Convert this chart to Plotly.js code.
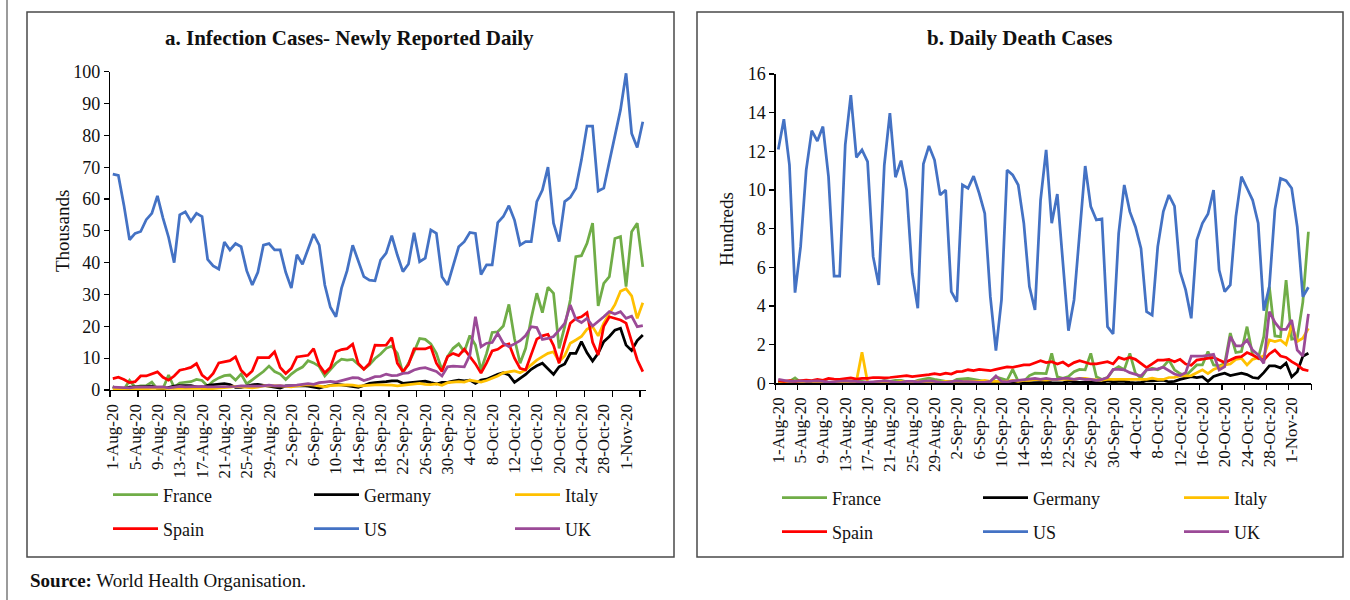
<!DOCTYPE html>
<html>
<head>
<meta charset="utf-8">
<script src="https://cdn.plot.ly/plotly-3.0.1.min.js"></script>
<style>
  html, body { margin: 0; padding: 0; background: #ffffff; }
  #chart { width: 1350px; height: 600px; }
</style>
</head>
<body>
<div id="chart"></div>
<script>
// ---------------- DATA ----------------
const dates = [
  "1-Aug-20","2-Aug-20","3-Aug-20","4-Aug-20","5-Aug-20","6-Aug-20","7-Aug-20","8-Aug-20","9-Aug-20","10-Aug-20",
  "11-Aug-20","12-Aug-20","13-Aug-20","14-Aug-20","15-Aug-20","16-Aug-20","17-Aug-20","18-Aug-20","19-Aug-20","20-Aug-20",
  "21-Aug-20","22-Aug-20","23-Aug-20","24-Aug-20","25-Aug-20","26-Aug-20","27-Aug-20","28-Aug-20","29-Aug-20","30-Aug-20",
  "31-Aug-20","1-Sep-20","2-Sep-20","3-Sep-20","4-Sep-20","5-Sep-20","6-Sep-20","7-Sep-20","8-Sep-20","9-Sep-20",
  "10-Sep-20","11-Sep-20","12-Sep-20","13-Sep-20","14-Sep-20","15-Sep-20","16-Sep-20","17-Sep-20","18-Sep-20","19-Sep-20",
  "20-Sep-20","21-Sep-20","22-Sep-20","23-Sep-20","24-Sep-20","25-Sep-20","26-Sep-20","27-Sep-20","28-Sep-20","29-Sep-20",
  "30-Sep-20","1-Oct-20","2-Oct-20","3-Oct-20","4-Oct-20","5-Oct-20","6-Oct-20","7-Oct-20","8-Oct-20","9-Oct-20",
  "10-Oct-20","11-Oct-20","12-Oct-20","13-Oct-20","14-Oct-20","15-Oct-20","16-Oct-20","17-Oct-20","18-Oct-20","19-Oct-20",
  "20-Oct-20","21-Oct-20","22-Oct-20","23-Oct-20","24-Oct-20","25-Oct-20","26-Oct-20","27-Oct-20","28-Oct-20","29-Oct-20",
  "30-Oct-20","31-Oct-20","1-Nov-20","2-Nov-20","3-Nov-20","4-Nov-20"
];
const tickLabels = ["1-Aug-20","5-Aug-20","9-Aug-20","13-Aug-20","17-Aug-20","21-Aug-20","25-Aug-20","29-Aug-20",
  "2-Sep-20","6-Sep-20","10-Sep-20","14-Sep-20","18-Sep-20","22-Sep-20","26-Sep-20","30-Sep-20",
  "4-Oct-20","8-Oct-20","12-Oct-20","16-Oct-20","20-Oct-20","24-Oct-20","28-Oct-20","1-Nov-20"];

const countries = ["France","Germany","Italy","Spain","US","UK"];
const colors = ["#70AD47","#000000","#FFC000","#FF0000","#4472C4","#9B4A97"];

// a. Infection cases, newly reported daily (thousands)
const casesFrance = [1.0,0.4,0.2,3.0,0.9,1.3,1.4,2.5,0.3,0.5, 4.7,0.8,2.2,2.5,2.6,3.3,3.0,1.2,2.8,3.8,
  4.5,4.7,3.1,5.0,1.9,3.2,4.5,5.8,7.5,5.8, 5.0,3.3,5.0,6.3,7.2,9.2,8.5,7.4,4.4,6.5,
  8.4,9.7,9.4,9.6,8.0,6.5,7.9,9.9,11.3,13.1, 13.8,11.5,5.4,8.4,12.0,16.2,15.9,14.5,11.5,6.3,
  10.5,13.1,14.5,12.0,17.1,14.1,6.3,11.5,18.1,18.3, 20.1,26.9,16.2,8.4,13.1,22.5,30.4,24.3,32.3,30.4,
  13.1,19.9,28.3,41.9,42.2,46.1,52.4,26.4,33.5,35.6, 47.6,48.2,32.5,49.7,52.4,38.7];
const casesGermany = [0.9,0.5,0.3,0.9,0.9,1.0,1.1,1.2,0.6,0.4, 0.9,1.2,1.4,1.5,1.4,1.0,0.6,1.5,1.7,1.8,
  2.0,1.7,0.8,0.8,1.3,1.6,1.8,1.5,1.4,0.9, 0.6,1.3,1.4,1.5,1.4,1.2,0.8,0.6,1.1,1.5,
  1.8,1.6,1.3,0.9,0.8,1.4,2.1,2.3,2.4,2.6, 2.9,2.9,2.1,2.3,2.5,2.6,2.8,2.3,1.9,2.4,
  2.4,2.8,3.1,2.9,3.1,2.1,3.1,3.4,4.2,4.9, 5.4,4.7,2.4,3.7,4.9,6.5,7.6,8.4,6.8,4.9,
  7.3,8.2,11.5,11.5,15.2,11.7,9.1,11.5,15.2,16.8, 18.8,19.4,14.1,12.4,15.5,17.3];
const casesItaly = [0.3,0.3,0.2,0.2,0.2,0.4,0.4,0.5,0.5,0.3, 0.3,0.4,0.5,0.6,0.6,0.6,0.5,0.3,0.4,0.6,
  0.8,0.9,1.1,1.0,0.9,0.7,0.9,1.3,1.4,1.4, 1.3,1.1,1.0,1.3,1.4,1.7,1.5,1.3,1.0,1.4,
  1.5,1.6,1.6,1.5,1.2,1.4,1.6,1.6,1.6,1.6, 1.5,1.3,1.5,1.8,1.9,2.1,1.8,1.7,1.9,1.5,
  2.3,2.5,2.6,2.5,3.1,2.8,2.5,3.0,3.7,4.4, 5.4,5.8,6.0,5.4,6.3,7.9,9.4,10.5,11.5,12.0,
  8.9,10.8,14.7,15.7,16.8,19.1,19.9,17.0,21.0,24.0, 26.8,31.0,31.8,29.6,22.5,27.4];
const casesSpain = [3.6,4.0,3.3,2.3,2.6,4.4,4.4,5.0,5.7,4.0, 3.1,4.4,6.2,6.6,7.1,8.3,4.7,3.3,5.2,8.5,
  8.9,9.2,10.4,6.2,4.4,6.0,10.2,10.2,10.2,12.0, 7.1,5.2,6.8,10.4,10.7,10.9,13.0,7.8,5.4,7.1,
  12.0,12.7,13.0,14.4,8.3,6.5,8.3,14.1,14.0,14.1, 16.5,8.4,5.8,8.0,12.9,12.9,12.9,13.6,8.4,5.8,
  10.5,11.5,10.8,12.8,10.5,8.2,5.3,8.5,12.3,12.8, 14.0,14.5,10.0,6.8,6.3,11.0,16.0,17.0,17.5,14.0,
  8.4,15.0,21.0,22.5,23.0,24.3,15.0,11.0,20.0,23.0, 22.5,22.0,21.0,15.0,9.5,5.8];
const casesUS = [67.8,67.4,58,47.2,49.2,49.8,53.5,55.5,61,54, 48,40,55,56,53,55.5,54.5,41,39,38,
  46.5,44,46,45,37.5,33,37,45.5,46,44, 44,37,32,42.5,39.5,44.5,49,45.5,33,26,
  23,32,37.5,45.5,40.8,35.6,34.5,34.3,40.8,43, 48.5,42.4,37.2,39.6,49.4,40.3,41.4,50.3,49.2,35.6,
  33,39.3,45,46.6,49.5,49.2,36.3,39.3,39.3,52.6, 54.5,57.9,53.4,45.5,46.6,46.6,59.2,62.8,70,52.4,
  46.6,59.2,60.5,63.4,72.3,82.9,82.9,62.5,63.4,71.7, 80,88,99.5,80.6,76.2,84.3];
const casesUK = [0.9,0.8,0.7,0.7,0.9,0.9,0.9,0.9,0.8,1.0, 0.7,1.0,1.1,1.0,1.1,1.0,1.1,1.0,1.0,1.2,
  1.0,1.0,1.1,1.3,1.2,1.1,1.2,1.3,1.5,1.3, 1.4,1.2,1.3,1.5,1.8,2.0,1.8,2.3,2.5,2.7,
  2.5,3.0,3.5,3.9,3.8,3.0,3.5,4.2,4.3,5.0, 4.5,4.6,5.2,5.4,6.3,6.8,7.0,6.5,5.8,4.4,
  7.3,7.5,7.4,7.3,11.0,23.0,13.6,14.7,14.9,17.8, 14.7,13.6,14.5,15.5,17.1,19.9,19.6,15.9,16.2,16.8,
  18.8,20.9,26.7,22.2,21.2,22.5,20.1,21.5,23.0,24.6, 23.9,24.6,22.5,23.2,19.9,20.2];

// b. Daily death cases (hundreds)
const deathsFrance = [0.05,0.05,0.1,0.28,0.05,0.05,0.1,0.1,0.12,0.05, 0.05,0.12,0.1,0.12,0.12,0.1,0.05,0.05,0.05,0.15,
  0.1,0.15,0.15,0.08,0.05,0.15,0.2,0.26,0.2,0.15, 0.12,0.05,0.2,0.22,0.25,0.2,0.15,0.1,0.1,0.32,
  0.25,0.15,0.72,0.1,0.1,0.4,0.52,0.52,0.5,1.55, 0.34,0.26,0.35,0.6,0.72,0.7,1.55,0.34,0.2,0.3,
  0.69,0.86,0.7,1.55,0.52,0.26,0.69,0.78,0.7,0.86, 1.2,0.7,0.5,0.38,0.69,0.95,0.95,1.64,0.95,0.9,
  1.03,2.6,1.59,1.64,2.93,1.47,1.29,2.41,5.0,2.45, 2.41,5.34,2.28,2.33,4.2,7.84];
const deathsGermany = [0.05,0.02,0.01,0.06,0.08,0.06,0.05,0.08,0.03,0.01, 0.05,0.06,0.05,0.06,0.03,0.03,0.01,0.04,0.05,0.06,
  0.04,0.03,0.01,0.01,0.06,0.05,0.05,0.04,0.02,0.01, 0.01,0.05,0.04,0.05,0.04,0.03,0.01,0.01,0.04,0.06,
  0.03,0.04,0.02,0.01,0.02,0.05,0.06,0.04,0.05,0.03, 0.01,0.02,0.11,0.07,0.05,0.06,0.04,0.01,0.02,0.13,
  0.08,0.1,0.1,0.05,0.02,0.05,0.13,0.12,0.15,0.16, 0.07,0.1,0.2,0.26,0.34,0.3,0.34,0.1,0.35,0.45,
  0.52,0.4,0.45,0.52,0.45,0.3,0.26,0.55,0.9,0.9, 0.8,1.05,0.33,0.6,1.4,1.55];
const deathsItaly = [0.05,0.05,0.1,0.05,0.05,0.1,0.1,0.05,0.05,0.05, 0.05,0.1,0.05,0.05,0.1,1.6,0.05,0.05,0.1,0.05,
  0.05,0.05,0.1,0.05,0.05,0.1,0.05,0.05,0.1,0.05, 0.1,0.1,0.1,0.1,0.1,0.1,0.1,0.15,0.1,0.1,
  0.1,0.1,0.15,0.1,0.15,0.15,0.2,0.17,0.17,0.2, 0.2,0.2,0.2,0.2,0.26,0.26,0.2,0.17,0.17,0.2,
  0.2,0.17,0.2,0.2,0.2,0.17,0.2,0.26,0.2,0.2, 0.3,0.31,0.38,0.38,0.4,0.55,0.7,0.5,0.72,0.83,
  0.95,1.0,1.24,1.29,0.95,1.24,1.34,1.41,2.24,2.16, 2.24,2.0,3.0,2.16,2.33,2.84];
const deathsSpain = [0.14,0.1,0.14,0.1,0.14,0.16,0.14,0.2,0.15,0.25, 0.22,0.2,0.24,0.28,0.22,0.26,0.25,0.3,0.3,0.28,
  0.3,0.33,0.36,0.4,0.35,0.38,0.4,0.45,0.5,0.45, 0.52,0.48,0.6,0.62,0.7,0.66,0.72,0.68,0.65,0.72,
  0.8,0.85,0.83,0.9,0.95,0.95,1.05,1.17,1.07,1.12, 1.0,1.1,0.9,1.07,1.17,1.1,1.0,1.0,1.05,1.12,
  1.0,1.34,1.24,1.34,1.24,1.0,0.81,1.0,1.2,1.2, 1.24,1.12,1.24,1.0,0.93,1.2,1.24,1.29,1.34,1.2,
  1.07,1.2,1.34,1.38,1.59,1.47,1.3,1.2,1.52,1.72, 1.41,1.34,1.12,0.95,0.72,0.65];
const deathsUS = [12.1,13.66,11.3,4.69,7.07,11.03,13.07,12.53,13.28,10.69, 5.55,5.55,12.33,14.91,11.69,12.07,11.47,6.55,5.09,11.29,
  13.97,10.66,11.52,10.0,5.69,3.88,11.34,12.28,11.55,9.74, 10.0,4.74,4.22,10.26,10.09,10.72,9.83,8.79,4.48,1.69,
  4.31,11.03,10.78,10.26,8.28,5.0,3.79,9.48,12.07,8.28, 9.79,6.38,2.72,4.31,7.76,11.24,9.14,8.45,8.5,2.93,
  2.55,7.76,10.26,8.88,8.1,6.98,3.71,3.53,7.07,8.88, 9.74,9.17,5.78,4.83,3.36,7.41,8.28,8.76,10.0,5.86,
  4.74,5.09,8.62,10.69,10.09,9.48,8.28,3.76,5.0,9.0, 10.6,10.48,10.09,8.1,4.48,4.97];
const deathsUK = [0.2,0.15,0.1,0.1,0.12,0.1,0.12,0.12,0.1,0.06, 0.08,0.1,0.12,0.1,0.1,0.05,0.05,0.08,0.1,0.12,
  0.1,0.05,0.05,0.1,0.1,0.08,0.1,0.12,0.1,0.05, 0.05,0.1,0.12,0.1,0.1,0.08,0.05,0.05,0.1,0.38,
  0.1,0.08,0.12,0.15,0.2,0.2,0.25,0.2,0.25,0.2, 0.2,0.25,0.25,0.2,0.25,0.2,0.2,0.15,0.2,0.3,
  0.72,0.72,0.7,0.55,0.45,0.38,0.7,0.72,0.75,0.83, 0.65,0.48,0.4,0.55,1.41,1.41,1.41,1.45,1.5,0.69,
  0.86,2.41,1.93,1.93,2.24,1.72,1.47,1.03,3.71,3.15, 2.79,2.79,3.28,1.72,1.41,3.59];

const casesSeries = [casesFrance, casesGermany, casesItaly, casesSpain, casesUS, casesUK];
const deathsSeries = [deathsFrance, deathsGermany, deathsItaly, deathsSpain, deathsUS, deathsUK];

const panelTitles = ["a. Infection Cases- Newly Reported Daily", "b. Daily Death Cases"];
const axisTitles = ["Thousands", "Hundreds"];
const sourceText = "<b>Source:</b> World Health Organisation.";

// ---------------- LAYOUT HELPERS ----------------
const W = 1350, H = 600;
const px = v => v / W;          // pixel x -> paper
const py = v => 1 - v / H;      // pixel y -> paper
const FONT = "Liberation Serif";

const traces = [];
casesSeries.forEach((s, i) => {
  traces.push({
    type: "scatter", mode: "lines", name: countries[i], x: dates, y: s,
    xaxis: "x", yaxis: "y", line: { color: colors[i], width: 2.75 },
    legend: i < 3 ? "legend" : "legend2", hoverinfo: "skip",
    legendwidth: (i % 3 === 2) ? 60 : 141
  });
});
deathsSeries.forEach((s, i) => {
  traces.push({
    type: "scatter", mode: "lines", name: countries[i], x: dates, y: s,
    xaxis: "x2", yaxis: "y2", line: { color: colors[i], width: 2.75 },
    legend: i < 3 ? "legend3" : "legend4", hoverinfo: "skip",
    legendwidth: (i % 3 === 2) ? 60 : 141
  });
});
// empty helper traces so that the tick-mark overlay axes are created
traces.push({ type: "scatter", x: [], y: [], xaxis: "x3", yaxis: "y", showlegend: false, hoverinfo: "skip" });
traces.push({ type: "scatter", x: [], y: [], xaxis: "x4", yaxis: "y2", showlegend: false, hoverinfo: "skip" });

const xRange = [-0.5, dates.length - 0.5];
const leftTicks = [], rightTicks = [];
for (let b = -0.5; b <= dates.length - 0.5; b += 5) leftTicks.push(b);
for (let b = -0.5; b <= dates.length - 0.5; b += 4) rightTicks.push(b);

const domL = [px(110), px(645.6)];
const domR = [px(775.5), px(1311.2)];

const baseX = {
  type: "category", range: xRange, showgrid: false, zeroline: false,
  showline: true, linecolor: "#000", linewidth: 1.2,
  ticks: "outside", ticklen: 6, tickcolor: "rgba(0,0,0,0)",
  tickmode: "array", tickvals: tickLabels, ticktext: tickLabels, tickangle: -90,
  tickfont: { family: FONT, size: 17, color: "#111" }, fixedrange: true
};
const tickOverlay = (dom, anchor, over, vals) => ({
  type: "linear", overlaying: over, anchor: anchor, domain: dom, range: xRange,
  tickmode: "array", tickvals: vals, ticks: "outside", ticklen: 6, tickwidth: 1.2, tickcolor: "#000",
  showticklabels: false, showline: false, showgrid: false, zeroline: false, fixedrange: true
});
const baseY = {
  showgrid: false, zeroline: false, showline: true, linecolor: "#000", linewidth: 1.2,
  ticks: "outside", ticklen: 5, tickcolor: "#000", tickwidth: 1.2,
  tickfont: { family: FONT, size: 18, color: "#111" }, fixedrange: true
};
const legendBase = (x, yTop) => ({
  orientation: "h", x: px(x), y: py(yTop), xanchor: "left", yanchor: "top",
  bgcolor: "rgba(0,0,0,0)", borderwidth: 0, itemwidth: 45,
  entrywidth: 141, entrywidthmode: "pixels",
  font: { family: FONT, size: 18, color: "#111" }, itemclick: false, itemdoubleclick: false
});

const layout = {
  width: W, height: H,
  margin: { l: 0, r: 0, t: 0, b: 0, pad: 0 },
  paper_bgcolor: "#ffffff", plot_bgcolor: "rgba(0,0,0,0)",
  showlegend: true,
  xaxis: Object.assign({}, baseX, { domain: domL, anchor: "y" }),
  xaxis2: Object.assign({}, baseX, { domain: domR, anchor: "y2" }),
  xaxis3: tickOverlay(domL, "y", "x", leftTicks),
  xaxis4: tickOverlay(domR, "y2", "x2", rightTicks),
  yaxis: Object.assign({}, baseY, { domain: [py(390), py(71.7)], anchor: "x", range: [0, 100], dtick: 10, tick0: 0 }),
  yaxis2: Object.assign({}, baseY, { domain: [py(383.3), py(74)], anchor: "x2", range: [0, 16], dtick: 2, tick0: 0 }),
  legend: legendBase(108, 476.5),
  legend2: legendBase(108, 510.5),
  legend3: legendBase(777, 479.5),
  legend4: legendBase(777, 513.5),
  shapes: [
    { type: "rect", xref: "paper", yref: "paper", x0: px(27), x1: px(674), y0: py(557), y1: py(12),
      line: { color: "#4a4a4a", width: 1.5 }, fillcolor: "rgba(0,0,0,0)", layer: "below" },
    { type: "rect", xref: "paper", yref: "paper", x0: px(697), x1: px(1343), y0: py(557), y1: py(12),
      line: { color: "#4a4a4a", width: 1.5 }, fillcolor: "rgba(0,0,0,0)", layer: "below" },
    { type: "line", xref: "paper", yref: "paper", x0: px(7), x1: px(7), y0: 0, y1: 1,
      line: { color: "#7a7a7a", width: 1.5 } }
  ],
  annotations: [
    { text: "<b>" + panelTitles[0] + "</b>", xref: "paper", yref: "paper", x: px(349), y: py(38),
      xanchor: "center", yanchor: "middle", showarrow: false, font: { family: FONT, size: 21, color: "#111" } },
    { text: "<b>" + panelTitles[1] + "</b>", xref: "paper", yref: "paper", x: px(1020), y: py(38),
      xanchor: "center", yanchor: "middle", showarrow: false, font: { family: FONT, size: 21, color: "#111" } },
    { text: axisTitles[0], xref: "paper", yref: "paper", x: px(62), y: py(231), textangle: -90,
      xanchor: "center", yanchor: "middle", showarrow: false, font: { family: FONT, size: 19, color: "#111" } },
    { text: axisTitles[1], xref: "paper", yref: "paper", x: px(727), y: py(229), textangle: -90,
      xanchor: "center", yanchor: "middle", showarrow: false, font: { family: FONT, size: 19, color: "#111" } },
    { text: sourceText, xref: "paper", yref: "paper", x: px(28), y: py(580),
      xanchor: "left", yanchor: "middle", showarrow: false, font: { family: FONT, size: 19, color: "#111" } }
  ]
};

Plotly.newPlot("chart", traces, layout, { displayModeBar: false, staticPlot: true, responsive: false });
</script>
</body>
</html>
